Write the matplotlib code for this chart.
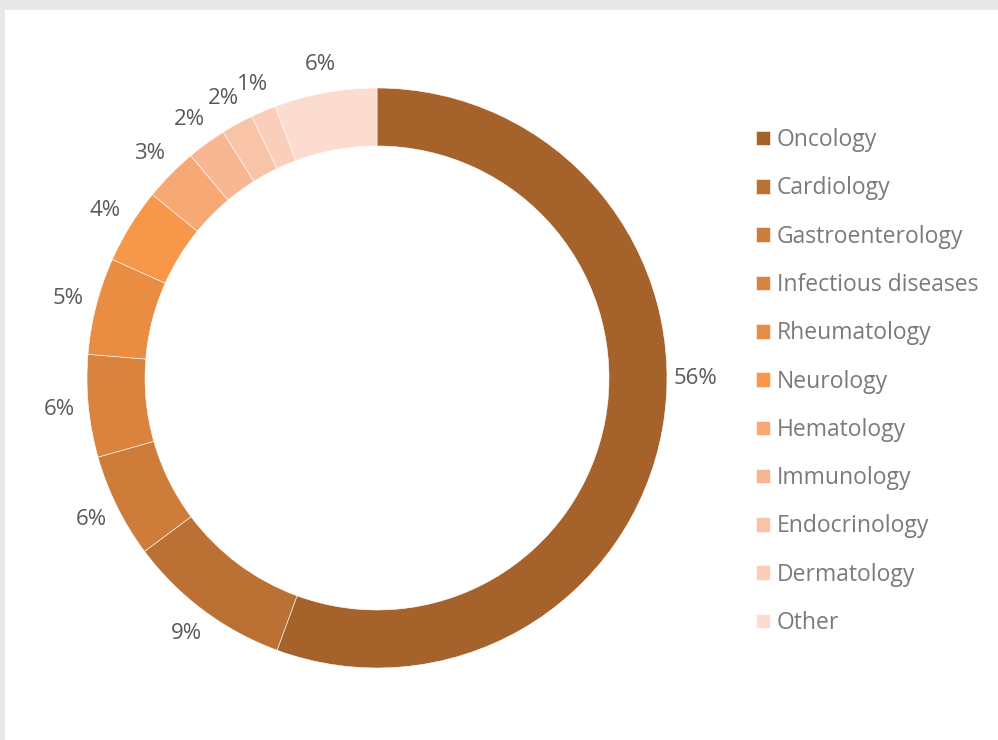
import matplotlib
matplotlib.use("Agg")
from matplotlib import pyplot as plt
from matplotlib.patches import Rectangle
import numpy as np

plt.rcParams['font.family'] = ['Open Sans', 'DejaVu Sans']

categories = ["Oncology", "Cardiology", "Gastroenterology", "Infectious diseases",
              "Rheumatology", "Neurology", "Hematology", "Immunology",
              "Endocrinology", "Dermatology", "Other"]
shares = [55.6, 9.2, 5.8, 5.7, 5.4, 4.2, 3.0, 2.2, 1.8, 1.4, 5.7]
colors = ["#A5622B", "#BB7134", "#CD7C3A", "#D9833E", "#E88D42", "#F6974A",
          "#F6A875", "#F8B792", "#F9C3A8", "#FBCEBA", "#FCDCCE"]

W, H = 998, 740
fig = plt.figure(figsize=(W / 100, H / 100), dpi=100)
fig.patch.set_facecolor("white")

# grey frame strips at top and left, like the screenshot
fig.patches.append(Rectangle((0, 1 - 10 / H), 1, 10 / H, transform=fig.transFigure,
                             facecolor="#e7e7e7", edgecolor="none"))
fig.patches.append(Rectangle((0, 0), 5 / W, 1, transform=fig.transFigure,
                             facecolor="#e7e7e7", edgecolor="none"))

# pie axes: center at (377, 378) px, outer radius 290 px
cx, cy, R = 377, 378, 290
lim = 1.25
half = lim * R
ax = fig.add_axes([(cx - half) / W, (H - cy - half) / H, 2 * half / W, 2 * half / H])
ax.set_xlim(-lim, lim)
ax.set_ylim(-lim, lim)
ax.set_aspect("equal")
ax.axis("off")

wedges, _ = ax.pie(shares, colors=colors, startangle=90, counterclock=False,
                   radius=1.0, wedgeprops=dict(width=0.2, edgecolor="white", linewidth=0.4))

# percentage labels outside the ring
label_shift = {"Oncology": 10}
total = sum(shares)
cum = 0
for name, v in zip(categories, shares):
    mid = cum + v / 2
    cum += v
    ang = np.deg2rad(90 - mid / total * 360 + label_shift.get(name, 0))
    ax.text(1.10 * np.cos(ang), 1.10 * np.sin(ang), "%.0f%%" % v,
            ha="center", va="center", fontsize=16, color="#595959")

fig.legend(wedges, categories, loc="upper left",
           bbox_to_anchor=(747 / W, 1 - 119 / H), frameon=False,
           fontsize=16.5, labelcolor="#7a7a7a", handlelength=0.6, handleheight=0.6,
           handletextpad=0.3, labelspacing=1.06, borderaxespad=0)

fig.savefig("out.png", dpi=100)
